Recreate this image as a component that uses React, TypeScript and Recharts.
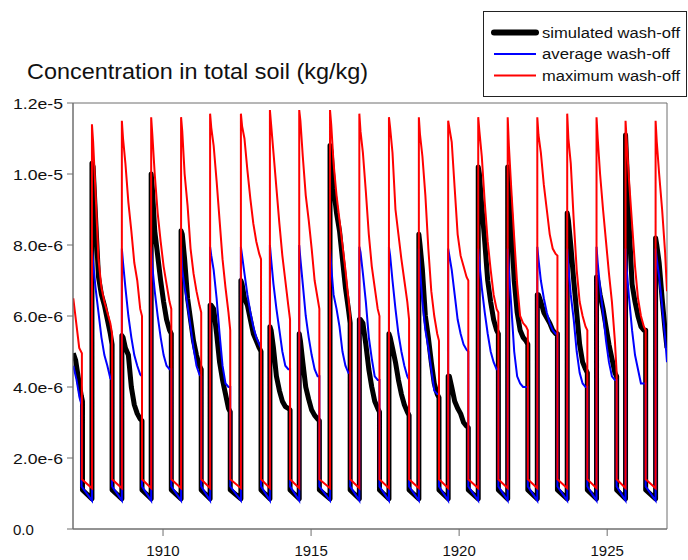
import { LineChart, Line, XAxis, YAxis, ReferenceArea } from "recharts";

const FONT = '"Liberation Sans", Arial, sans-serif';
const AXIS = "#6e6e6e";

// values are in units of 1e-6 kg/kg
const xDomain = [1906.96, 1927.02];
const yDomain = [0, 12];
const xTicks = [1910, 1915, 1920, 1925];
const yTicks = [0, 2, 4, 6, 8, 10, 12];
const yTickLabels = ["0.0", "2.0e-6", "4.0e-6", "6.0e-6", "8.0e-6", "1.0e-5", "1.2e-5"];

// time (year) when each wash-off cycle jumps up
const riseYears = [
  1907.6, 1908.61, 1909.6, 1910.61, 1911.59, 1912.63, 1913.61, 1914.6, 1915.64, 1916.63,
  1917.63, 1918.64, 1919.63, 1920.645, 1921.64, 1922.64, 1923.65, 1924.64, 1925.62,
];
const lastRise = 1926.635;
// sample times inside a cycle (years after the rise): low, peak, decay..., end, low again
const cycleOffsets = [0, 0, 0.04, 0.12, 0.22, 0.32, 0.42, 0.52, 0.62, 0.68, 0.68];
const tailOffsets = [0, 0, 0.04, 0.12, 0.22, 0.32, 0.385];

const simulatedHead = [[1906.97, 4.95], [1907.05, 4.75], [1907.15, 4.2], [1907.24, 3.75], [1907.28, 3.6], [1907.28, 1.1]];
const simulatedCycles = [
  [0.85, 10.3, 10.2, 8.8, 7.1, 6.6, 6.3, 5.9, 5.5, 5.2, 1.1],
  [0.85, 5.45, 5.4, 5.1, 4.9, 4.0, 3.5, 3.25, 3.1, 3.05, 1.1],
  [0.85, 10.0, 9.6, 8.4, 7.7, 7.0, 6.4, 5.9, 5.6, 5.5, 1.1],
  [0.85, 8.4, 8.3, 7.6, 6.5, 5.9, 5.3, 4.9, 4.6, 4.5, 1.1],
  [0.85, 6.3, 6.3, 6.2, 5.5, 4.7, 4.2, 3.8, 3.4, 3.3, 1.1],
  [0.85, 7.0, 6.9, 6.5, 6.3, 5.9, 5.5, 5.3, 5.1, 5.0, 1.1],
  [0.85, 5.7, 5.6, 5.1, 4.3, 3.9, 3.6, 3.45, 3.4, 3.35, 1.1],
  [0.85, 5.5, 5.3, 4.7, 4.0, 3.65, 3.35, 3.2, 3.1, 3.05, 1.1],
  [0.85, 10.8, 10.6, 9.6, 8.9, 8.4, 7.6, 6.8, 6.2, 5.8, 1.1],
  [0.85, 5.9, 5.9, 5.8, 5.2, 4.5, 4.0, 3.6, 3.4, 3.3, 1.1],
  [0.85, 5.5, 5.4, 5.1, 4.7, 4.2, 3.8, 3.5, 3.3, 3.2, 1.1],
  [0.85, 8.3, 8.0, 7.3, 6.0, 5.4, 4.7, 4.1, 3.8, 3.7, 1.1],
  [0.85, 4.3, 4.3, 4.0, 3.6, 3.4, 3.25, 3.0, 2.9, 2.85, 1.1],
  [0.85, 10.2, 10.0, 9.1, 8.1, 7.0, 6.4, 5.9, 5.6, 5.5, 1.1],
  [0.85, 10.2, 9.7, 8.6, 7.0, 6.1, 5.6, 5.4, 5.3, 5.2, 1.1],
  [0.85, 6.6, 6.6, 6.4, 6.1, 5.95, 5.8, 5.6, 5.5, 5.5, 1.1],
  [0.85, 8.9, 8.7, 8.0, 7.0, 6.1, 5.2, 4.7, 4.5, 4.4, 1.1],
  [0.85, 7.1, 7.0, 6.6, 6.2, 5.7, 5.2, 4.8, 4.4, 4.3, 1.1],
  [0.85, 11.1, 10.3, 8.6, 6.9, 6.4, 6.0, 5.7, 5.6, 5.6, 1.1],
];
const simulatedTail = [0.85, 8.2, 8.0, 7.5, 6.5, 5.6, 5.1];

const averageHead = [[1906.97, 4.6], [1907.08, 4.2], [1907.18, 3.7], [1907.25, 3.5], [1907.25, 1.2]];
const averageCycles = [
  [0.8, 7.9, 7.5, 6.8, 6.1, 5.4, 4.9, 4.6, 4.25, 4.2, 1.2],
  [0.8, 7.9, 7.5, 6.8, 6.0, 5.4, 4.9, 4.6, 4.35, 4.3, 1.2],
  [0.8, 7.95, 7.4, 6.7, 6.0, 5.4, 4.9, 4.6, 4.5, 4.5, 1.2],
  [0.8, 7.95, 7.3, 6.8, 6.3, 5.7, 5.1, 4.6, 4.35, 4.3, 1.2],
  [0.8, 7.95, 7.7, 7.3, 6.5, 5.5, 4.6, 4.1, 4.0, 4.0, 1.2],
  [0.8, 7.95, 7.7, 7.2, 6.6, 6.1, 5.7, 5.4, 5.2, 5.1, 1.2],
  [0.8, 8.0, 7.6, 6.9, 6.2, 5.6, 5.0, 4.6, 4.5, 4.5, 1.2],
  [0.8, 8.0, 7.6, 6.9, 6.0, 5.4, 4.9, 4.5, 4.3, 4.3, 1.2],
  [0.8, 7.9, 7.4, 6.6, 6.2, 5.7, 5.0, 4.6, 4.4, 4.4, 1.2],
  [0.8, 7.95, 7.8, 7.2, 6.4, 5.4, 4.8, 4.3, 4.2, 4.2, 1.2],
  [0.8, 7.95, 7.7, 7.0, 6.2, 5.5, 5.0, 4.6, 4.3, 4.2, 1.2],
  [0.8, 7.9, 7.3, 6.4, 5.6, 5.1, 4.5, 3.9, 3.8, 3.8, 1.2],
  [0.8, 7.9, 7.7, 7.3, 6.6, 5.9, 5.5, 5.2, 5.05, 5.0, 1.2],
  [0.8, 7.9, 7.5, 6.8, 6.1, 5.5, 5.0, 4.7, 4.5, 4.5, 1.2],
  [0.8, 7.9, 7.3, 6.3, 5.0, 4.3, 4.1, 4.0, 4.0, 4.0, 1.2],
  [0.8, 7.95, 7.6, 7.0, 6.5, 6.1, 5.8, 5.6, 5.5, 5.5, 1.2],
  [0.8, 7.9, 7.4, 6.6, 5.9, 5.0, 4.4, 4.1, 4.0, 4.0, 1.2],
  [0.8, 7.95, 7.5, 6.8, 6.1, 5.3, 4.7, 4.3, 4.2, 4.2, 1.2],
  [0.8, 7.9, 7.3, 6.5, 5.6, 4.9, 4.5, 4.1, 4.1, 4.1, 1.2],
];
const averageTail = [0.8, 7.9, 7.6, 7.1, 6.3, 5.4, 4.7];

const maximumHead = [[1906.97, 6.5], [1907.17, 5.1], [1907.26, 4.95], [1907.26, 1.4]];
const maximumCycles = [
  [1.15, 11.4, 10.9, 9.5, 7.6, 6.8, 6.4, 6.1, 5.8, 5.5, 1.4],
  [1.15, 11.5, 11.0, 10.3, 9.2, 8.4, 7.5, 7.0, 6.2, 6.0, 1.4],
  [1.15, 11.6, 11.1, 10.0, 8.9, 8.1, 7.4, 6.9, 6.4, 6.2, 1.4],
  [1.15, 11.6, 11.2, 10.0, 9.1, 7.9, 7.2, 6.7, 6.3, 6.1, 1.4],
  [1.15, 11.7, 11.3, 10.8, 9.8, 8.7, 7.6, 6.8, 6.1, 5.6, 1.4],
  [1.15, 11.7, 11.35, 11.0, 10.1, 9.3, 8.6, 8.1, 7.75, 7.6, 1.4],
  [1.15, 11.8, 11.4, 10.6, 9.6, 8.6, 7.7, 7.0, 6.3, 5.9, 1.4],
  [1.15, 11.8, 11.5, 10.5, 9.4, 8.7, 7.9, 7.0, 6.5, 6.2, 1.4],
  [1.15, 11.8, 11.4, 10.3, 9.4, 8.7, 8.0, 7.3, 6.5, 6.0, 1.4],
  [1.15, 11.7, 11.2, 10.6, 9.5, 8.3, 7.4, 6.8, 6.2, 6.0, 1.4],
  [1.15, 11.6, 11.3, 10.6, 9.0, 8.3, 7.6, 7.0, 6.4, 5.9, 1.4],
  [1.15, 11.6, 11.1, 10.5, 9.4, 7.9, 6.7, 6.0, 5.5, 5.3, 1.4],
  [1.15, 11.5, 11.3, 10.9, 9.6, 8.3, 7.7, 7.4, 7.1, 7.0, 1.4],
  [1.15, 11.6, 11.2, 10.5, 9.2, 8.1, 7.3, 6.6, 6.2, 6.1, 1.4],
  [1.15, 11.6, 10.8, 9.6, 8.2, 6.9, 6.0, 5.8, 5.7, 5.6, 1.4],
  [1.15, 11.6, 11.1, 10.6, 9.7, 9.0, 8.3, 7.9, 7.75, 7.7, 1.4],
  [1.15, 11.7, 11.0, 10.3, 8.7, 7.3, 6.4, 6.0, 5.7, 5.6, 1.4],
  [1.15, 11.6, 11.0, 10.0, 9.0, 8.1, 7.2, 6.4, 5.3, 4.4, 1.4],
  [1.15, 11.5, 10.9, 9.8, 8.6, 7.4, 6.5, 6.0, 5.7, 5.6, 1.4],
];
const maximumTail = [1.15, 11.5, 10.9, 10.0, 9.0, 7.8, 6.7];

type Pt = { x: number; y: number };

function buildSeries(head: number[][], cycles: number[][], tail: number[]): Pt[] {
  const pts: Pt[] = head.map(([x, y]) => ({ x, y }));
  cycles.forEach((row, i) => {
    row.forEach((v, j) => pts.push({ x: riseYears[i] + cycleOffsets[j], y: v }));
  });
  tail.forEach((v, j) => pts.push({ x: lastRise + tailOffsets[j], y: v }));
  return pts;
}

const simulated = buildSeries(simulatedHead, simulatedCycles, simulatedTail);
const average = buildSeries(averageHead, averageCycles, averageTail);
const maximum = buildSeries(maximumHead, maximumCycles, maximumTail);

const title = "Concentration in total soil (kg/kg)";
const legendItems = [
  { label: "simulated wash-off", color: "#000000", width: 6, textLen: 138 },
  { label: "average wash-off", color: "#0000ff", width: 2, textLen: 128 },
  { label: "maximum wash-off", color: "#ff0000", width: 2, textLen: 138 },
];

function YTick(props: any) {
  const { y, payload } = props;
  const label = yTickLabels[yTicks.indexOf(payload.value)];
  return (
    <text
      x={13}
      y={y}
      dy="0.37em"
      fontFamily={FONT}
      fontSize={15}
      fill="#111"
      textLength={label.length > 3 ? 50 : undefined}
      lengthAdjust="spacingAndGlyphs"
    >
      {label}
    </text>
  );
}

export default function App() {
  return (
    <div style={{ position: "absolute", left: 0, top: 0, width: 688, height: 560, background: "#fff" }}>
      <LineChart
        width={688}
        height={560}
        margin={{ top: 103, right: 21, bottom: 0, left: 0 }}
      >
        <XAxis
          type="number"
          dataKey="x"
          domain={xDomain}
          allowDataOverflow
          ticks={xTicks}
          height={31}
          tickSize={7}
          tickMargin={9}
          stroke={AXIS}
          tick={{ fontSize: 15, fill: "#111", fontFamily: FONT }}
        />
        <YAxis
          type="number"
          dataKey="y"
          domain={yDomain}
          allowDataOverflow
          ticks={yTicks}
          width={73}
          tickSize={6}
          stroke={AXIS}
          tick={<YTick />}
        />
        <ReferenceArea
          x1={xDomain[0]}
          x2={xDomain[1]}
          y1={yDomain[0]}
          y2={yDomain[1]}
          fill="none"
          stroke={AXIS}
          strokeWidth={1}
        />
        <Line
          data={simulated}
          dataKey="y"
          type="linear"
          stroke="#000"
          strokeWidth={5}
          strokeLinejoin="round"
          dot={false}
          isAnimationActive={false}
        />
        <Line
          data={average}
          dataKey="y"
          type="linear"
          stroke="#0000ff"
          strokeWidth={2}
          dot={false}
          isAnimationActive={false}
        />
        <Line
          data={maximum}
          dataKey="y"
          type="linear"
          stroke="#ff0000"
          strokeWidth={2}
          dot={false}
          isAnimationActive={false}
        />
      </LineChart>
      <svg
        width={688}
        height={560}
        style={{ position: "absolute", left: 0, top: 0, pointerEvents: "none" }}
      >
        <text x={27} y={79} fontFamily={FONT} fontSize={21.5} fill="#111" textLength={341} lengthAdjust="spacingAndGlyphs">
          {title}
        </text>
        <rect x={483.5} y={11.5} width={203} height={85} fill="#fff" stroke="#222" strokeWidth={1} />
        {legendItems.map((item, i) => {
          const cy = [32.5, 54, 75.5][i];
          return (
            <g key={item.label}>
              <line
                x1={494}
                x2={536}
                y1={cy}
                y2={cy}
                stroke={item.color}
                strokeWidth={item.width}
                strokeLinecap={i === 0 ? "round" : "butt"}
              />
              <text
                x={542}
                y={cy + 5}
                fontFamily={FONT}
                fontSize={14}
                fill="#111"
                textLength={item.textLen}
                lengthAdjust="spacingAndGlyphs"
              >
                {item.label}
              </text>
            </g>
          );
        })}
      </svg>
    </div>
  );
}
